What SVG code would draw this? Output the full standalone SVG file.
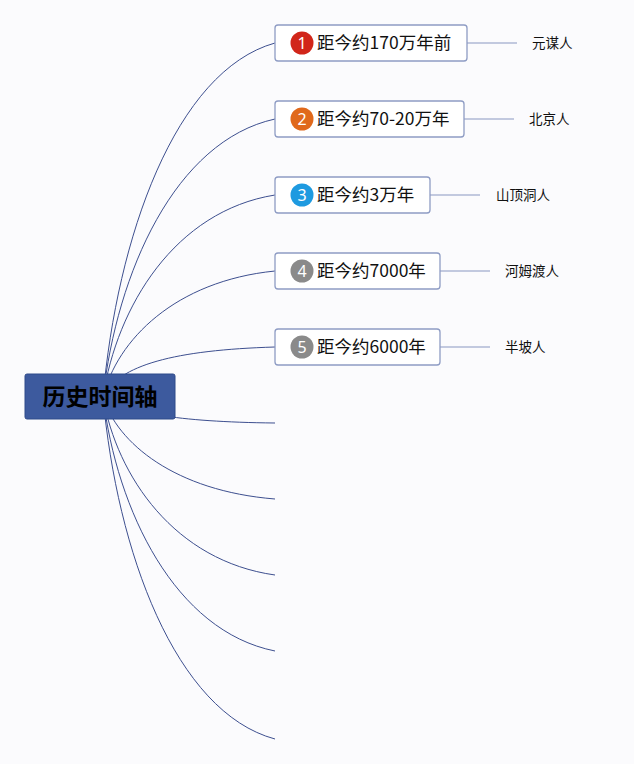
<svg xmlns="http://www.w3.org/2000/svg" width="634" height="764" viewBox="0 0 634 764">
<style>
.bg{fill:#fbfbfd}
.conn{fill:none;stroke:#3d4f8f;stroke-width:1}
.sub{fill:none;stroke:#8a97c2;stroke-width:1.2}
.box{fill:#ffffff;stroke:#8e9cc4;stroke-width:1.3}
.t{font-family:"Noto Sans CJK SC","Noto Sans",sans-serif;font-size:17.5px;fill:#111}
.lbl{font-family:"Noto Sans CJK SC","Noto Sans",sans-serif;font-size:13.5px;fill:#111}
.num{font-family:"Noto Sans","Noto Sans CJK SC",sans-serif;font-size:16px;fill:#fff;text-anchor:middle}
.root{fill:#3d5a9e;stroke:#2f4a8a;stroke-width:1}
.rt{font-family:"Noto Sans CJK SC",sans-serif;font-size:23px;font-weight:bold;fill:#000;text-anchor:middle}
</style>
<rect class="bg" x="0" y="0" width="634" height="764"/>
<g id="connectors">
<path class="conn" d="M103,397 C117,238 175,71 275,43"/>
<path class="conn" d="M103,397 C117,272 175,141 275,119"/>
<path class="conn" d="M103,397 C117,306 175,211 275,195"/>
<path class="conn" d="M103,397 C117,340 175,281 275,271"/>
<path class="conn" d="M103,397 C118,365 175,350 275,347"/>
<path class="conn" d="M103,397 C125,412 175,422 275,423"/>
<path class="conn" d="M103,397 C117,443 175,491 275,499"/>
<path class="conn" d="M103,397 C117,477 175,561 275,575"/>
<path class="conn" d="M103,397 C117,511 175,631 275,651"/>
<path class="conn" d="M103,397 C117,551 175,712 275,739"/>
<path class="sub" d="M467,43 H517"/>
<path class="sub" d="M464,119 H514"/>
<path class="sub" d="M430,195 H480"/>
<path class="sub" d="M440,271 H490"/>
<path class="sub" d="M440,347 H490"/>
</g>
<g id="root">
<rect class="root" x="25" y="374" width="150" height="45" rx="2"/>
<text class="rt" x="100" y="405">历史时间轴</text>
</g>
<g id="node1">
<rect class="box" x="275" y="25" width="192" height="36" rx="3"/>
<circle cx="302" cy="43" r="11.5" fill="#d1261a"/>
<text class="num" x="302" y="48.5">1</text>
<text class="t" x="317" y="49">距今约170万年前</text>
</g>
<g id="node2">
<rect class="box" x="275" y="101" width="189" height="36" rx="3"/>
<circle cx="302" cy="119" r="11.5" fill="#e0691c"/>
<text class="num" x="302" y="124.5">2</text>
<text class="t" x="317" y="125">距今约70-20万年</text>
</g>
<g id="node3">
<rect class="box" x="275" y="177" width="155" height="36" rx="3"/>
<circle cx="302" cy="195" r="11.5" fill="#1e9ae0"/>
<text class="num" x="302" y="200.5">3</text>
<text class="t" x="317" y="201">距今约3万年</text>
</g>
<g id="node4">
<rect class="box" x="275" y="253" width="165" height="36" rx="3"/>
<circle cx="302" cy="271" r="11.5" fill="#8a8a8a"/>
<text class="num" x="302" y="276.5">4</text>
<text class="t" x="317" y="277">距今约7000年</text>
</g>
<g id="node5">
<rect class="box" x="275" y="329" width="165" height="36" rx="3"/>
<circle cx="302" cy="347" r="11.5" fill="#8a8a8a"/>
<text class="num" x="302" y="352.5">5</text>
<text class="t" x="317" y="353">距今约6000年</text>
</g>
<g id="label1"><text class="lbl" x="532" y="48">元谋人</text></g>
<g id="label2"><text class="lbl" x="529" y="124">北京人</text></g>
<g id="label3"><text class="lbl" x="496" y="200">山顶洞人</text></g>
<g id="label4"><text class="lbl" x="505" y="276">河姆渡人</text></g>
<g id="label5"><text class="lbl" x="505" y="352">半坡人</text></g>
</svg>
